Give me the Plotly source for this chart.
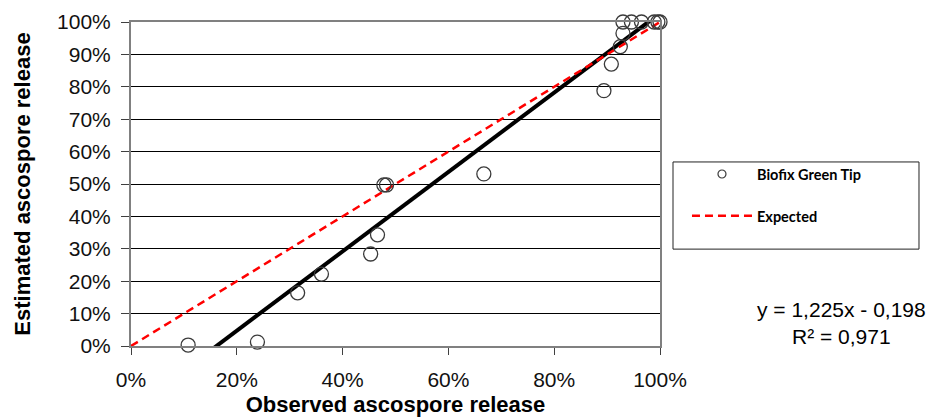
import plotly.graph_objects as go

# Data
observed = [0.108, 0.239, 0.315, 0.360, 0.453, 0.466, 0.478, 0.483, 0.667,
            0.894, 0.908, 0.925, 0.930, 0.930, 0.946, 0.965, 0.989, 0.996, 1.000]
estimated = [0.003, 0.012, 0.164, 0.222, 0.284, 0.343, 0.497, 0.497, 0.531,
             0.788, 0.870, 0.924, 0.965, 1.000, 1.000, 1.000, 1.000, 1.000, 1.000]

slope = 1.225
intercept = -0.198
r_squared = 0.971

expected_x = [0.0, 1.0]
expected_y = [0.0, 1.0]

tick_vals_y = [i / 10 for i in range(11)]
tick_text_y = [f"{i*10}%" for i in range(11)]
tick_vals_x = [i / 5 for i in range(6)]
tick_text_x = [f"{i*20}%" for i in range(6)]

trend_x = [min(observed), max(observed)]
trend_y = [slope * v + intercept for v in trend_x]

fig = go.Figure()

fig.add_trace(go.Scatter(
    x=trend_x, y=trend_y, mode="lines",
    line=dict(color="black", width=4),
    showlegend=False, hoverinfo="skip"))

fig.add_trace(go.Scatter(
    x=expected_x, y=expected_y, mode="lines",
    line=dict(color="#ff0000", width=2.5, dash="8px,5px"),
    name="Expected", legendgroup="b", legendrank=2, showlegend=True))

fig.add_trace(go.Scatter(
    x=observed, y=estimated, mode="markers",
    marker=dict(symbol="circle-open", size=14, color="#3a3a3a",
                line=dict(width=1.3, color="#3a3a3a")),
    cliponaxis=False, showlegend=False, name="Biofix Green Tip"))

# legend-only entry with small marker like the reference
fig.add_trace(go.Scatter(
    x=[None], y=[None], mode="markers",
    marker=dict(symbol="circle-open", size=8, color="#3a3a3a",
                line=dict(width=1.2, color="#3a3a3a")),
    name="Biofix Green Tip", legendgroup="a", legendrank=1, showlegend=True))

axis_font = dict(family="Liberation Sans, Arial, sans-serif", size=21, color="#111111")
title_font = dict(family="Liberation Sans, Arial, sans-serif", size=22, color="#000000")
eq_font = dict(family="Liberation Sans, Arial, sans-serif", size=21, color="black")

eq_text = (f"y = {str(slope).replace('.', ',')}x - {str(-intercept).replace('.', ',')}"
           f"<br>R² = {str(r_squared).replace('.', ',')}")

fig.update_layout(
    width=943, height=419,
    margin=dict(l=131, r=283, t=22, b=73),
    paper_bgcolor="white", plot_bgcolor="white",
    xaxis=dict(range=[0, 1], tickvals=tick_vals_x, ticktext=tick_text_x,
               showgrid=False, zeroline=False, showline=True, mirror=True,
               linecolor="#808080", linewidth=2, ticks="outside", ticklen=7,
               tickcolor="#404040", tickfont=axis_font, ticklabelstandoff=7,
               automargin=False,
               title=dict(text="<b>Observed ascospore release</b>", font=title_font, standoff=6)),
    yaxis=dict(range=[0, 1], tickvals=tick_vals_y, ticktext=tick_text_y,
               showgrid=True, gridcolor="#000000", gridwidth=1, zeroline=False,
               showline=True, mirror=True, linecolor="#808080", linewidth=2,
               ticks="outside", ticklen=8, tickcolor="#404040", tickfont=axis_font,
               ticklabelstandoff=6, automargin=False,
               title=dict(text="<b>Estimated ascospore release</b>", font=title_font, standoff=20)),
    legend=dict(x=1.051, y=0.58, xanchor="left", yanchor="top",
                bgcolor="rgba(0,0,0,0)", borderwidth=0, tracegroupgap=20,
                itemwidth=60, traceorder="grouped",
                font=dict(family="Lato, Open Sans, sans-serif", size=14.5, color="black", weight="bold")),
    shapes=[dict(type="rect", xref="paper", yref="paper",
                 x0=1.0246, x1=1.4896, y0=0.299, y1=0.568,
                 line=dict(color="#222222", width=1), fillcolor="rgba(0,0,0,0)")],
    annotations=[
        dict(text=eq_text, xref="paper", yref="paper", x=1.344, y=0.0695,
             showarrow=False, xanchor="center", yanchor="middle", align="center",
             font=eq_font),
    ],
)

fig.write_html("out.html",
               config={"displayModeBar": False},
               post_script="document.body.style.margin='0';document.body.style.overflow='hidden';")
